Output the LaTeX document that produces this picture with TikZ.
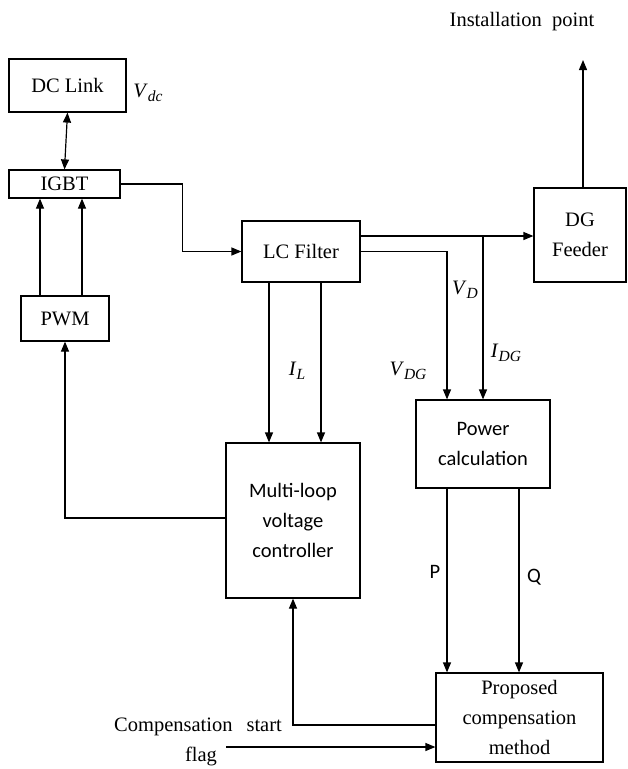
\documentclass[tikz,border=0pt]{standalone}
\usepackage{fontspec}
\setmainfont{Liberation Serif}
\newfontfamily\calibri{Carlito}
\usetikzlibrary{arrows.meta,calc}
\newcommand{\grand}[2]{\textit{#1}\raisebox{-0.4ex}{\fontsize{15.5}{16}\selectfont\textit{#2}}}
\begin{document}
\begin{tikzpicture}[x=1pt,y=-1pt,line width=1.2pt,
        >={Triangle[length=10pt,width=8pt]},
        every node/.style={font=\fontsize{20.5}{30}\selectfont},
        blocco/.style={draw,inner sep=0pt,align=center},
        sans/.style={font=\calibri\fontsize{20.5}{30}\selectfont}]
        \useasboundingbox (0,0) rectangle (627,769);
        %disegno blocchi
        \node[blocco,minimum width=117pt,minimum height=53pt] (dclink) at (67.5,85.5) {DC Link};
        \node[blocco,minimum width=111pt,minimum height=28pt] (igbt) at (64.5,184) {IGBT};
        \node[blocco,minimum width=88pt,minimum height=45pt] (pwm) at (65,318.5) {PWM};
        \node[blocco,minimum width=118pt,minimum height=61pt] (lcf) at (301,251.5) {LC Filter};
        \node[blocco,minimum width=92pt,minimum height=94pt] (dg) at (580,235) {DG\\Feeder};
        \node[blocco,sans,minimum width=134pt,minimum height=88pt] (power) at (483,444) {Power\\calculation};
        \node[blocco,sans,minimum width=134pt,minimum height=155pt] (mlc) at (293,520.5) {Multi-loop\\voltage\\controller};
        \node[blocco,minimum width=167pt,minimum height=89pt] (prop) at (519.5,717.5) {Proposed\\compensation\\method};
        %etichette
        \node (vdc) at (148,93) {\grand{V}{dc}};
        \node (il) at (297,371) {\grand{I}{L}};
        \node (vd) at (465,290) {\grand{V}{D}};
        \node (idg) at (506,353) {\grand{I}{DG}};
        \node (vdg) at (408,371) {\grand{V}{DG}};
        \node[sans] (p) at (435,572) {P};
        \node[sans] (q) at (534,577) {Q};
        \node (inst) at (522,22) {Installation~~point};
        \node (flagtxt) at (198,727) {Compensation\hspace{14pt}start};
        \node (flagtxt2) at (201,756) {flag};
        %disegno collegamenti
        \draw[<->] (dclink.south) -- (igbt.north);
        \draw[->] (igbt.east) -- ++(62,0) |- (lcf.west);
        \draw[->] ($(pwm.north)+(-25,0)$) -- ($(igbt.south)+(-24.5,0)$);
        \draw[->] ($(pwm.north)+(17,0)$) -- ($(igbt.south)+(17.5,0)$);
        \draw[->] ($(lcf.south)+(-32,0)$) -- ($(mlc.north)+(-24,0)$);
        \draw[->] ($(lcf.south)+(20,0)$) -- ($(mlc.north)+(28,0)$);
        %uscite filtro LC
        \coordinate (nodo) at (483,236);
        \draw[->] ($(lcf.east)+(0,-15.5)$) -- (nodo) -- (nodo -| dg.west);
        \draw[->] (nodo) -- (power.north);
        \draw[->] (lcf.east) -| ($(power.north)+(-36,0)$);
        %verso punto di installazione
        \coordinate (punto) at (583,60);
        \draw[->] (dg.north -| punto) -- (punto);
        %retroazioni
        \draw[->] ($(mlc.west)+(0,-2.5)$) -| (pwm.south);
        \draw[->] ($(prop.west)+(0,7.5)$) -| (mlc.south);
        %potenze P e Q
        \draw[->] ($(power.south)+(-36,0)$) -- ($(prop.north)+(-72.5,0)$);
        \draw[->] ($(power.south)+(36,0)$) -- ($(prop.north)+(-0.5,0)$);
        %segnale di avvio
        \coordinate (flag) at (226,747);
        \draw[->] (flag) -- (flag -| prop.west);
\end{tikzpicture}
\end{document}
